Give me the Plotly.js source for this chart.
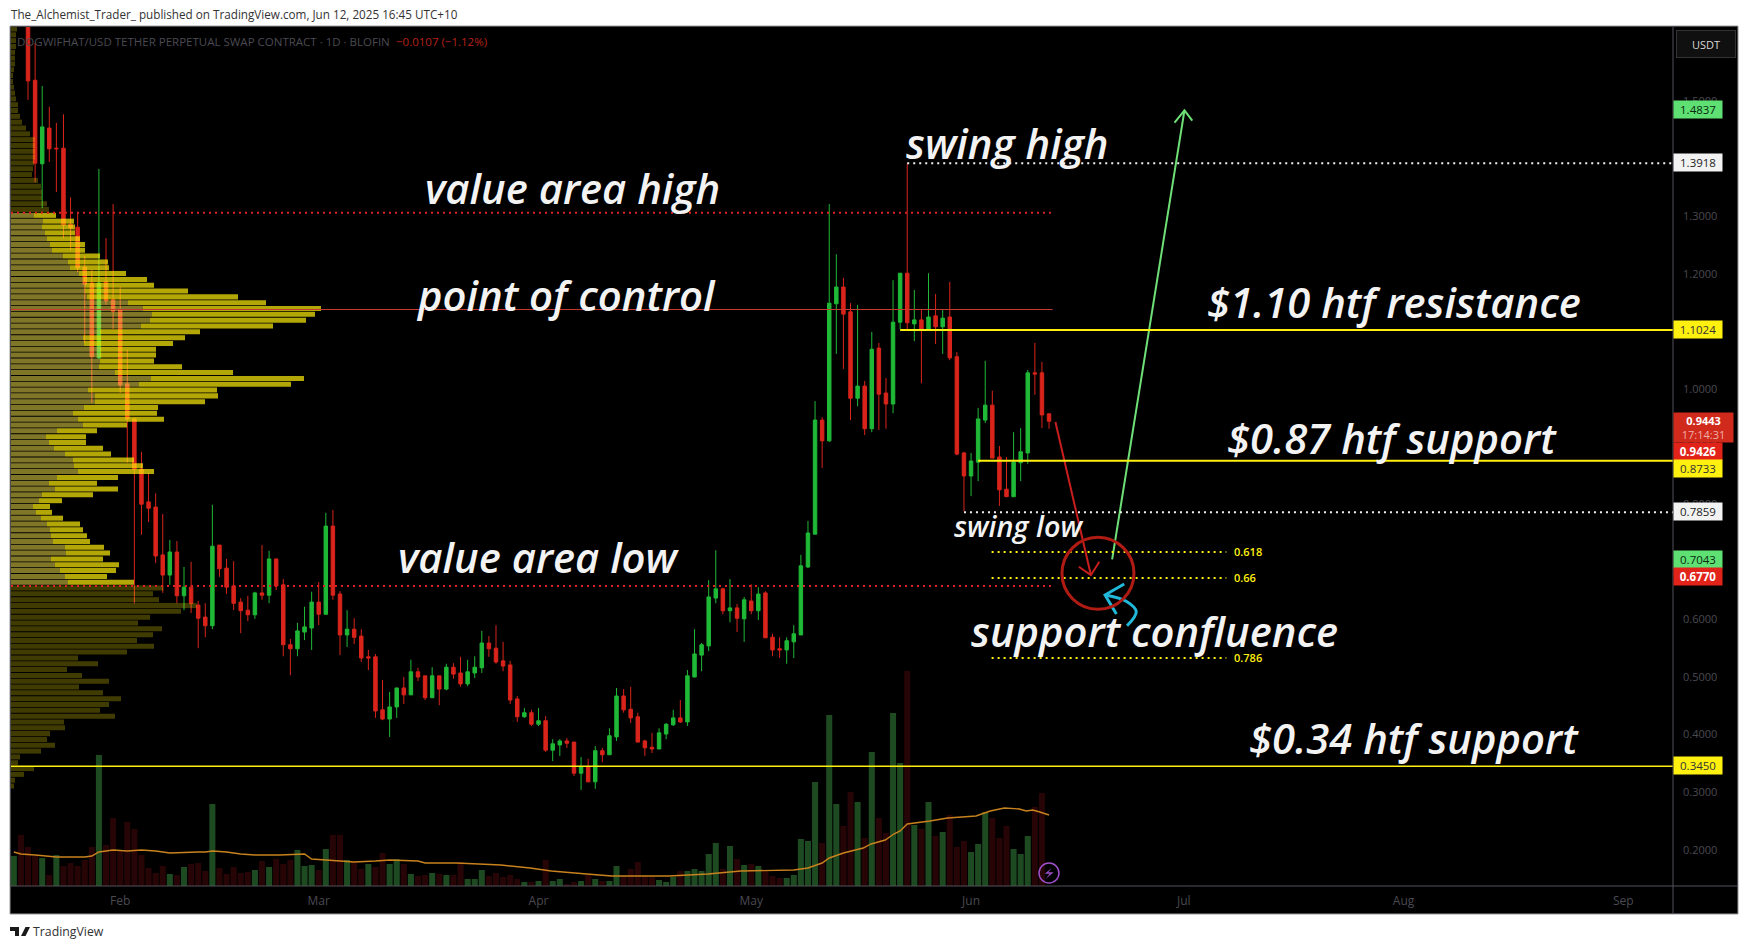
<!DOCTYPE html>
<html><head><meta charset="utf-8">
<script src="https://cdn.plot.ly/plotly-3.0.1.min.js"></script>
<style>html,body{margin:0;padding:0;background:#fff;overflow:hidden}#chart{width:1749px;height:949px}</style>
</head><body><div id="chart"></div>
<script>
// ---- candles: first candle is 13 days before Feb 1 2025, one per day
const firstCandleDay = -13;
const opens = [1.814,1.536,1.391,1.453,1.418,1.418,1.286,1.281,1.212,1.184,1.054,1.186,1.155,1.137,
1.009,.948,.861,.804,.795,.712,.677,.717,.641,.656,.625,.604,.589,.729,.689,.658,.630,.616,.608,.646,.642,.705,.660,.556,.549,.578,.585,
.630,.609,.762,.644,.573,.583,.571,.535,.535,.443,.427,.448,.481,.469,.509,.502,.464,.502,.479,.517,.507,.488,.507,.516,.559,.550,
.528,.521,.462,.431,.438,.418,.424,.373,.382,.389,.387,.333,.344,.318,.372,.365,.396,.467,.444,.431,.389,.378,.375,.401,.417,.429,.422,.500,.538,.554,
.637,.653,.615,.620,.601,.632,.615,.646,.569,.549,.547,.561,.573,.691,.748,.946,.910,1.148,1.177,1.134,.984,1.005,.931,1.071,.993,.974,1.116,1.201,1.113,1.120,1.102,1.127,1.108,1.125,1.056,.889,.849,.873,.946,.972,.882,.826,.813,.872,.889,1.028,1.028,.957];
const closes = [1.535,1.392,1.455,1.417,1.417,1.285,1.280,1.210,1.182,1.056,1.184,1.153,1.135,1.007,
.948,.861,.800,.793,.710,.677,.717,.641,.656,.628,.602,.589,.727,.688,.656,.628,.615,.608,.646,.642,.705,.658,.556,.549,.580,.587,.630,
.609,.762,.642,.573,.583,.569,.533,.533,.441,.427,.448,.481,.469,.509,.500,.464,.502,.479,.517,.505,.488,.509,.517,.559,.549,.526,
.519,.460,.431,.438,.418,.424,.373,.384,.389,.385,.333,.344,.318,.372,.365,.398,.467,.443,.429,.387,.377,.375,.403,.418,.429,.422,.502,.540,.556,.639,
.653,.615,.620,.602,.634,.615,.644,.568,.547,.547,.563,.575,.693,.750,.946,.910,1.149,1.177,1.130,.984,1.005,.931,1.069,.991,.974,1.116,1.201,1.115,1.120,1.102,1.125,1.108,1.123,1.054,.887,.849,.875,.948,.972,.880,.825,.813,.873,.891,1.028,1.026,.955,.944];
const highs = [1.849,1.601,1.526,1.490,1.462,1.477,1.333,1.306,1.231,1.207,1.382,1.262,1.321,1.177,
1.068,.950,.891,.854,.819,.783,.738,.736,.691,.700,.632,.628,.799,.729,.705,.701,.637,.641,.648,.729,.719,.705,.670,.566,.594,.622,.648,
.665,.785,.790,.649,.616,.602,.583,.547,.540,.495,.474,.481,.500,.530,.516,.502,.517,.502,.523,.524,.535,.530,.536,.580,.571,.590,
.561,.528,.467,.446,.443,.446,.432,.392,.392,.394,.387,.361,.358,.380,.377,.411,.481,.479,.483,.438,.391,.403,.411,.420,.443,.460,.512,.583,.559,.668,
.720,.655,.670,.627,.639,.661,.656,.649,.575,.569,.569,.590,.712,.771,.979,.951,1.321,1.234,1.193,1.149,1.146,1.014,1.099,1.080,1.019,1.189,1.201,1.392,1.172,1.137,1.201,1.165,1.137,1.186,1.064,.891,.889,.967,1.049,.997,.901,.882,.925,.932,1.033,1.080,1.047,.957];
const lows = [1.502,1.359,1.314,1.394,1.342,1.262,1.241,1.203,1.080,.976,1.052,1.146,1.104,.993,
.872,.628,.747,.769,.698,.646,.660,.628,.616,.611,.550,.569,.583,.674,.644,.616,.576,.597,.601,.634,.628,.651,.536,.503,.536,.564,.547,
.590,.608,.634,.538,.552,.557,.526,.512,.429,.425,.396,.429,.453,.469,.493,.460,.464,.451,.477,.497,.483,.484,.498,.507,.535,.523,
.510,.453,.422,.429,.415,.415,.370,.354,.363,.377,.328,.304,.318,.306,.352,.365,.389,.438,.420,.387,.363,.368,.375,.392,.415,.420,.415,.500,.510,.545,
.628,.609,.595,.578,.561,.609,.599,.568,.536,.533,.523,.533,.573,.689,.748,.863,.908,1.061,1.035,.946,.970,.920,.925,.929,.931,.958,1.104,1.102,1.083,1.010,1.102,1.078,1.061,1.050,.885,.788,.814,.840,.941,.880,.797,.813,.813,.840,.870,.990,.932,.931];

// ---- volume pane: first bar is 15 days before Feb 1 2025
const firstVolumeDay = -15;
const volumes = [30,51,39,30,28,11,31,20,23,20,26,39,131,41,68,36,64,57,31,18,13,20,12,11,19,22,23,15,82,18,12,19,13,14,16,25,19,27,22,26,36,20,21,16,37,51,51,26,24,17,22,19,33,22,27,22,12,10,11,13,12,11,11,24,7,7,16,10,13,
9,11,7,4,4,5,26,5,7,2,4,5,11,7,5,5,20,10,17,24,10,9,6,4,9,15,15,17,15,32,43,17,40,27,21,22,20,15,10,8,8,11,47,45,104,43,171,82,60,94,84,48,134,68,53,173,123,215,61,57,84,50,54,71,39,45,34,42,74,68,48,60,37,32,50,79,93];
const volumeUp = [1,0,0,0,1,0,1,0,0,0,0,0,1,0,0,0,0,0,0,0,0,0,1,0,1,0,0,0,1,0,0,0,0,0,1,0,1,0,0,0,1,1,1,0,1,0,0,1,0,0,1,0,0,1,1,0,1,0,0,1,0,1,0,0,1,1,1,0,0,
0,0,0,1,0,1,0,1,1,0,0,1,0,1,0,1,1,0,0,0,0,0,1,1,1,0,1,1,1,1,1,0,1,0,1,0,1,0,0,0,1,1,1,1,1,0,1,1,0,0,1,0,1,0,0,1,1,0,1,0,1,0,1,0,0,0,1,1,1,0,0,0,1,1,1,0,0];
const volumeMaDays = [-15,-14,-12,-9,-5,-4,-3,-1,1,3,5,7,11,12,13,15,17,19,22.5,26,27,29.6,33,36,38,42,43,47.4,50.7,53.7,57.8,60.8,65.8,69.3,77.4,82.9,87.5,95,97,99,100,102,104.8,105.9,107.9,109.1,110,111,114.2,116.7,120.7,122.7,124.7,126.8,127.8,128.7,129.7,131];
const volumeMa = [34,32,31,29,29,30,34,36,35,36,35,33,34,34,35,34,32,31,31,32,27,26,24,25,26,25,23,23,22,21,18,15,12,10,10,12,15,16,18,23,28,33,38,42,46,52,55,62,65,68,70,75,78,77,75,76,74,71];

// ---- volume profile rows, from the top of the pane downwards
const profileTopPrice = 1.625, profileStep = 0.01011;
const profileAbove = [18,15,15,15,12,12,12,9,6,6,9,12,15,21,21,27,33,45,57,72,72,72,72,69,66,63,81,90,93,93,108,114];
const profileValueTotal = [135,189,192,192,207,222,222,267,291,294,345,408,429,
531,681,765,930,912,885,786,567,522,486,435,435,429,513,666,879,840,618,621,582,441,438,459,348,258,225,225,276,300,369,396,429,321,258,321,246,153,117,123,156,207,216,228,237,279,297,276,324,315,288,369];
const profileValueDim = [69,96,93,102,108,117,123,156,171,177,204,217,222,
222,227,351,396,423,417,390,267,216,219,267,267,267,264,312,420,384,231,252,252,219,186,201,216,138,105,114,129,162,186,189,201,138,114,132,93,84,66,75,90,108,117,120,126,162,165,120,132,147,162,171];
const profileBelow = [457,426,444,557,510,417,381,453,426,378,429,348,201,261,168,213,294,204,276,330,294,267,312,159,162,117,108,132,90,27,21,69,39,12,9];

// ---- levels
const valueAreaHigh = 1.306, pointOfControl = 1.138, valueAreaLow = 0.658;
const levelEndDay = 131.5;
const swingHigh = 1.3918, swingLow = 0.7859, swingHighDay = 111, swingLowDay = 119;
const resistance = 1.1024, supportMid = 0.8755, supportLow = 0.3450;
const resistanceDay = 110, supportMidDay = 121;
const fibDays = [122.9, 156], fibLevels = [0.717, 0.672, 0.533], fibNames = ['0.618','0.66','0.786'];
const arrowDownDays = [131.9,136.9], arrowDownPrices = [0.9426,0.677];
const arrowDownHeadDays = [135.2,136.9,138.1], arrowDownHeadPrices = [0.6915,0.677,0.70];
const arrowUpDays = [139.9,150.1], arrowUpPrices = [0.7043,1.4837];
const arrowUpHeadDays = [148.7,150.1,151.2], arrowUpHeadPrices = [1.4623,1.4837,1.466];
const blueHeadDays = [141.6,138.9,140.5], blueHeadPrices = [0.6615,0.6424,0.6094];
const blueCurveDays = [138.9,142,143.3,142], blueCurvePrices = [0.6424,0.6307,0.6134,0.589];

const monthDays = [0,28,59,89,120,150,181,212];
const monthNames = ['Feb','Mar','Apr','May','Jun','Jul','Aug','Sep'];
const priceTicks = [0.2,0.3,0.4,0.5,0.6,0.8,0.9,1.0,1.2,1.3,1.4,1.5];

const chartLabels = [
 ['swing high',110.55,1.4285,41.8],['value area high',42.65,1.3505,41.8],['point of control',41.45,1.1645,41.8],['value area low',38.85,0.71,41.8],
 ['$1.10 htf resistance',152.95,1.1525,41.8],['$0.87 htf support',155.85,0.9165,41.8],['$0.34 htf support',158.85,0.3955,41.8],
 ['swing low',117.25,0.7625,28.7],['support confluence',119.65,0.5815,41.8]];
const priceBadges = [
 ['1.4837',1.486,'#5EE172','#0c2a12',0],['1.3918',1.393,'#F2F2F2','#222',0],['1.1024',1.1036,'#FFF010','#333',0],
 ['0.9426',0.891,'#E2231A','#fff',1],['0.8733',0.8623,'#FFF010','#333',0],['0.7859',0.7865,'#F2F2F2','#222',0],
 ['0.7043',0.7043,'#5EE172','#0c2a12',0],['0.6770',0.6748,'#E2231A','#fff',1],['0.3450',0.3455,'#FFF010','#333',0]];

// ---- helpers
const dayToDate = d => new Date(Date.UTC(2025,1,1)+d*864e5).toISOString().slice(0,19).replace('T',' ');
const dates = a => a.map(dayToDate);
const seq = (start,n) => Array.from({length:n},(_,i)=>start+i);

const GREEN='#1FB937', RED='#D9241B';
const candleDays = seq(firstCandleDay, closes.length);
const volDays = seq(firstVolumeDay, volumes.length);
const upIdx = volumes.map((_,i)=>i).filter(i=>volumeUp[i]);
const dnIdx = volumes.map((_,i)=>i).filter(i=>!volumeUp[i]);

// plot box in page pixels
const L=11,T=27,R=1673,B=886,W=R-L,H=B-T;
const px = x => (x-L)/W, py = y => 1-(y-T)/H;

const allRows = seq(0, profileAbove.length+profileValueTotal.length+profileBelow.length);
const rowPrice = i => profileTopPrice - i*profileStep;
const aboveRows = allRows.slice(0,profileAbove.length);
const valueRows = allRows.slice(profileAbove.length,profileAbove.length+profileValueTotal.length);
const belowRows = allRows.slice(profileAbove.length+profileValueTotal.length);
const outerRows = aboveRows.concat(belowRows);
const outerVals = profileAbove.concat(profileBelow);
const rowWidth = profileStep*0.86;

const traces = [
 {type:'candlestick',x:dates(candleDays),open:opens,high:highs,low:lows,close:closes,xaxis:'x',yaxis:'y',
  increasing:{line:{color:GREEN,width:1},fillcolor:GREEN},decreasing:{line:{color:RED,width:1},fillcolor:RED},
  whiskerwidth:0,hoverinfo:'skip',showlegend:false},
 {type:'bar',x:dates(upIdx.map(i=>volDays[i])),y:upIdx.map(i=>volumes[i]),xaxis:'x',yaxis:'y2',width:0.85*864e5,marker:{color:'#1E4A22',line:{width:0}},hoverinfo:'skip'},
 {type:'bar',x:dates(dnIdx.map(i=>volDays[i])),y:dnIdx.map(i=>volumes[i]),xaxis:'x',yaxis:'y2',width:0.85*864e5,marker:{color:'#270506',line:{width:0}},hoverinfo:'skip'},
 {type:'scatter',mode:'lines',x:dates(volumeMaDays),y:volumeMa,xaxis:'x',yaxis:'y2',line:{color:'#C8821E',width:1.4},hoverinfo:'skip'},
 {type:'bar',orientation:'h',y:outerRows.map(rowPrice),x:outerVals,xaxis:'x2',yaxis:'y',width:rowWidth,marker:{color:'rgba(255,235,0,0.25)',line:{width:0}},hoverinfo:'skip'},
 {type:'bar',orientation:'h',y:valueRows.map(rowPrice),x:profileValueDim,xaxis:'x2',yaxis:'y',width:rowWidth,marker:{color:'rgba(255,235,80,0.5)',line:{width:0}},hoverinfo:'skip'},
 {type:'bar',orientation:'h',y:valueRows.map(rowPrice),x:profileValueTotal.map((v,i)=>v-profileValueDim[i]),base:profileValueDim,xaxis:'x2',yaxis:'y',width:rowWidth,marker:{color:'rgba(255,238,10,0.7)',line:{width:0}},hoverinfo:'skip'}
];
const hand = (x,y,color,width,shape) => ({type:'scatter',mode:'lines',x:dates(x),y:y,xaxis:'x',yaxis:'y',line:{color,width,shape:shape||'linear',smoothing:1.1},hoverinfo:'skip'});
traces.push(hand(arrowDownDays,arrowDownPrices,'#C81E1E',2), hand(arrowDownHeadDays,arrowDownHeadPrices,'#C81E1E',2),
 hand(arrowUpDays,arrowUpPrices,'#6FE077',2), hand(arrowUpHeadDays,arrowUpHeadPrices,'#6FE077',2),
 hand(blueHeadDays,blueHeadPrices,'#22B8DA',3), hand(blueCurveDays,blueCurvePrices,'#22B8DA',3,'spline'));

const hline=(d0,d1,y,color,width,dash)=>({type:'line',xref:'x',yref:'y',x0:dayToDate(d0),x1:dayToDate(d1),y0:y,y1:y,line:{color,width,dash:dash||'solid'},layer:'above'});
const dots='2px,4px', startDay=-15.4, endDay=219;
const shapes=[
 {type:'rect',xref:'paper',yref:'paper',x0:px(10),x1:px(1738),y0:py(914),y1:py(26),fillcolor:'#000',line:{color:'#9a9aa0',width:1},layer:'below'},
 hline(startDay,levelEndDay,valueAreaHigh,'#E02020',2,dots),
 hline(startDay,levelEndDay,valueAreaLow,'#E02020',2,dots),
 hline(startDay,levelEndDay,pointOfControl,'#C43A2E',1),
 hline(swingHighDay,endDay,swingHigh,'#F2F2F2',2,dots),
 hline(swingLowDay,endDay,swingLow,'#F2F2F2',2,dots),
 hline(resistanceDay,endDay,resistance,'#FFF010',2),
 hline(supportMidDay,endDay,supportMid,'#FFF010',2),
 hline(startDay,endDay,supportLow,'#FFF010',1.5),
 ...fibLevels.map(y=>hline(fibDays[0],fibDays[1],y,'#FFF010',2,dots)),
 {type:'circle',xref:'x',yref:'y',xsizemode:'pixel',ysizemode:'pixel',xanchor:dayToDate(137.9),yanchor:0.68,x0:-36,x1:36,y0:-36,y1:36,line:{color:'#B01C14',width:3},layer:'above'},
 {type:'line',xref:'paper',yref:'paper',x0:px(11),x1:px(1738),y0:py(886),y1:py(886),line:{color:'#52525A',width:1},layer:'above'},
 {type:'line',xref:'paper',yref:'paper',x0:px(1673),x1:px(1673),y0:py(914),y1:py(27),line:{color:'#52525A',width:1},layer:'above'},
 {type:'circle',xref:'paper',yref:'paper',xsizemode:'pixel',ysizemode:'pixel',xanchor:px(1049),yanchor:py(873),x0:-10,x1:10,y0:-10,y1:10,line:{color:'#A04FC8',width:1.5},layer:'above'},
 {type:'path',xref:'paper',yref:'paper',xsizemode:'pixel',ysizemode:'pixel',xanchor:px(1049),yanchor:py(873),path:'M2.7 5L-4.3 -0.7H0.7L-3.3 -5.7L4.7 0.7H-0.7Z',fillcolor:'#A04FC8',line:{width:0},layer:'above'},
 {type:'path',xref:'paper',yref:'paper',xsizemode:'pixel',ysizemode:'pixel',xanchor:px(10),yanchor:py(936),path:'M0 9H9V0H5V5H0Z M11 0H15.5L20 9H15.5Z M12.5 5.2A1.9 1.9 0 1 0 12.51 5.2Z',fillcolor:'#1a1a1a',line:{width:0},layer:'above'}
];

const UI='"Open Sans", sans-serif';
const annotations=[
 ...chartLabels.map(([text,d,y,size])=>({text,xref:'x',yref:'y',x:dayToDate(d),y,xanchor:'left',yanchor:'middle',showarrow:false,font:{family:UI,size,color:'#F3F3F3',style:'italic',weight:600}})),
 ...fibNames.map((t,i)=>({text:t,xref:'x',yref:'y',x:dayToDate(156.8),y:fibLevels[i]+0.001,xanchor:'left',yanchor:'middle',showarrow:false,font:{family:UI,size:11,color:'#FFF010',weight:600}})),
 ...priceBadges.map(([t,y,bg,fg,b])=>({text:b?'<b>'+t+'</b>':t,xref:'paper',yref:'y',x:1.0003,y,xanchor:'left',yanchor:'middle',showarrow:false,width:48,height:17,align:'center',bgcolor:bg,borderpad:0,font:{family:UI,size:11.5,color:fg}})),
 {text:'<b>0.9443</b><br><span style="color:#f0b0a8">17:14:31</span>',xref:'paper',yref:'y',x:1.0003,y:0.9328,xanchor:'left',yanchor:'middle',showarrow:false,width:59,height:29,align:'center',bgcolor:'#D02A1C',borderpad:0,font:{family:UI,size:11,color:'#fff'}},
 {text:'USDT',xref:'paper',yref:'paper',x:px(1706),y:py(44),xanchor:'center',yanchor:'middle',showarrow:false,width:56,height:24,bgcolor:'#101010',bordercolor:'#333',borderwidth:1,font:{family:UI,size:11,color:'#d8d8d8'}},
 {text:'The_Alchemist_Trader_ published on TradingView.com, Jun 12, 2025 16:45 UTC+10',xref:'paper',yref:'paper',x:px(9),y:py(14),xanchor:'left',yanchor:'middle',showarrow:false,font:{family:UI,size:11.7,color:'#333'}},
 {text:'DOGWIFHAT/USD TETHER PERPETUAL SWAP CONTRACT · 1D · BLOFIN',xref:'paper',yref:'paper',x:px(15),y:py(41),xanchor:'left',yanchor:'middle',showarrow:false,font:{family:UI,size:11.5,color:'#4A4A52'}},
 {text:'−0.0107 (−1.12%)',xref:'paper',yref:'paper',x:px(394),y:py(41),xanchor:'left',yanchor:'middle',showarrow:false,font:{family:UI,size:11.5,color:'#B8201A'}},
 {text:'TradingView',xref:'paper',yref:'paper',x:px(31),y:py(931),xanchor:'left',yanchor:'middle',showarrow:false,font:{family:UI,size:12.3,color:'#333'}}
];

const layout={
 width:1749,height:949,margin:{l:L,t:T,r:1749-R,b:949-B,pad:0},paper_bgcolor:'#fff',plot_bgcolor:'rgba(0,0,0,0)',showlegend:false,barmode:'overlay',boxgap:0.3,font:{family:UI},
 xaxis:{type:'date',range:[dayToDate(startDay),dayToDate(endDay)],rangeslider:{visible:false},showgrid:false,zeroline:false,showline:false,ticks:'',
   tickmode:'array',tickvals:dates(monthDays),ticktext:monthNames,tickfont:{family:UI,size:12,color:'#4A4A52'},ticklabelstandoff:6,fixedrange:true},
 xaxis2:{overlaying:'x',anchor:'y',range:[0,3*W],visible:false,fixedrange:true},
 yaxis:{side:'right',range:[(965-B)/576,(965-T)/576],showgrid:false,zeroline:false,showline:false,ticks:'',tickmode:'array',tickvals:priceTicks,ticktext:priceTicks.map(v=>v.toFixed(4)),tickfont:{family:UI,size:11,color:'#4A4A52'},ticklabelstandoff:9,fixedrange:true},
 yaxis2:{overlaying:'y',anchor:'x',range:[0,H],visible:false,fixedrange:true},
 shapes,annotations
};
Plotly.newPlot('chart',traces,layout,{displayModeBar:false,staticPlot:true});
</script></body></html>
